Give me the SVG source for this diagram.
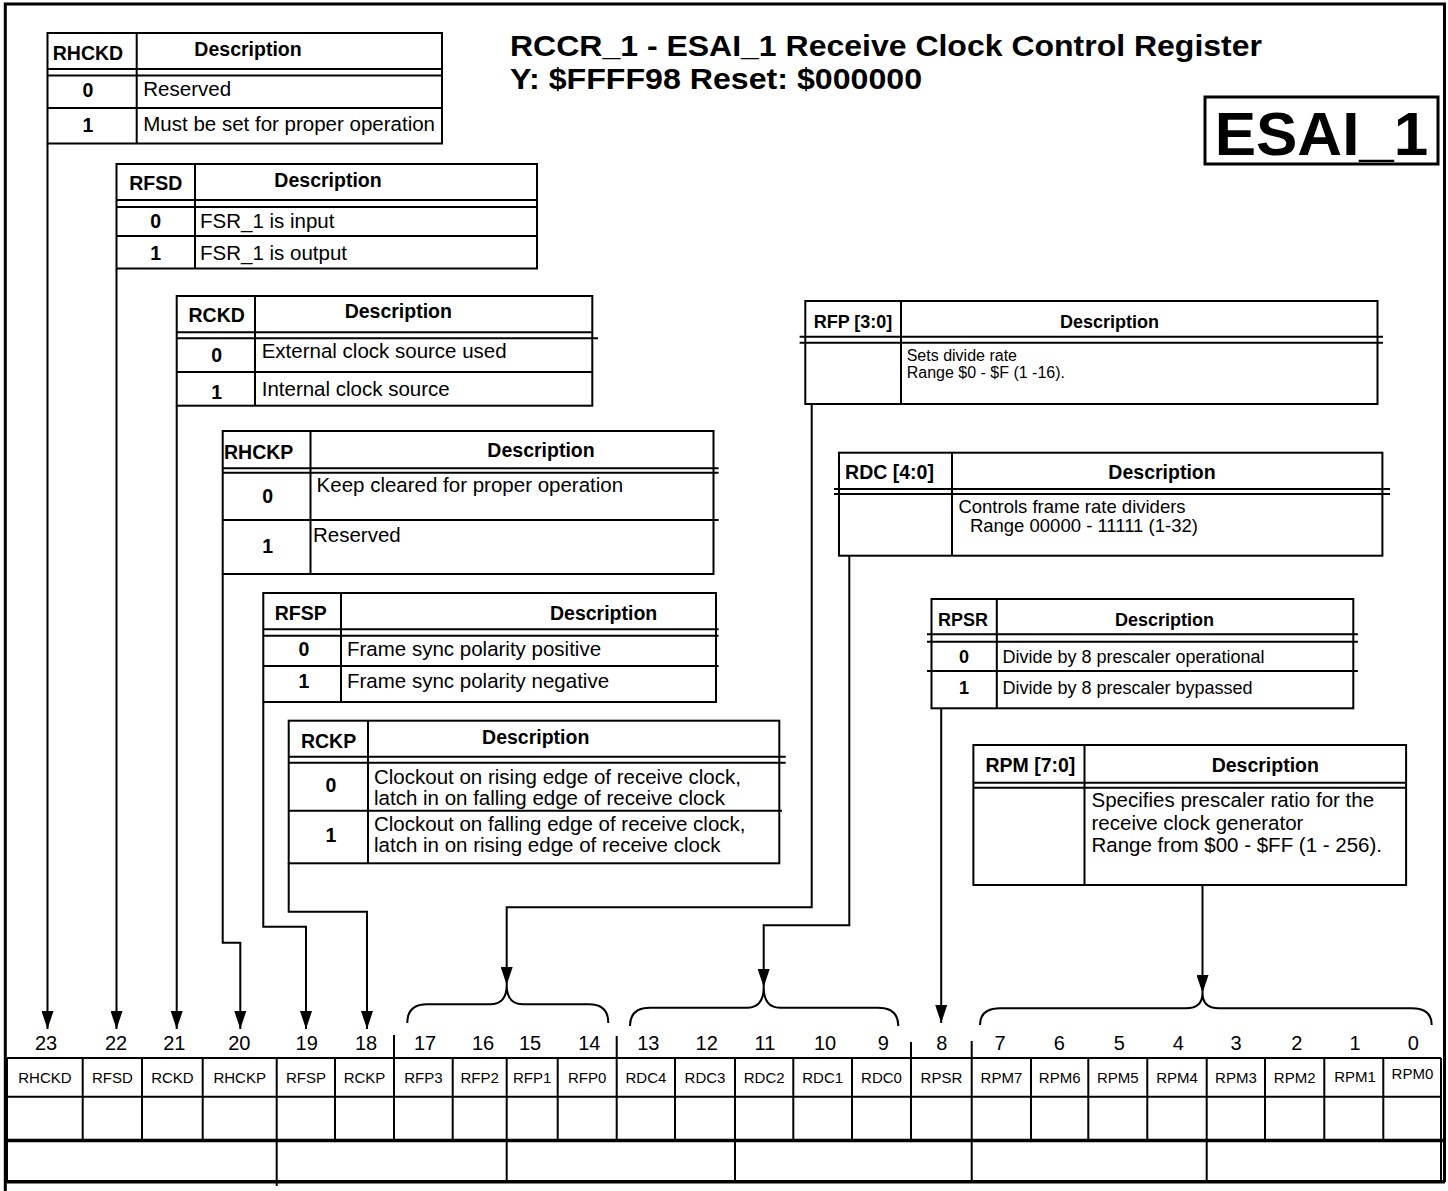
<svg xmlns="http://www.w3.org/2000/svg" width="1448" height="1191" viewBox="0 0 1448 1191">
<defs>
<style>
.ln{fill:none;stroke:#000;stroke-width:2}
.hd{font-family:"Liberation Sans",Arial,Helvetica,sans-serif;font-weight:bold;fill:#000}
.tx{font-family:"Liberation Sans",Arial,Helvetica,sans-serif;fill:#000}
.c{text-anchor:middle}
</style>
<marker id="ah" markerUnits="userSpaceOnUse" markerWidth="18" markerHeight="12" refX="18" refY="6" orient="auto">
<path d="M0,0 L18,6 L0,12 z" fill="#000"/>
</marker>
</defs>
<rect width="1448" height="1191" fill="#fff"/>
<g id="frame" fill="none" stroke="#000" stroke-width="3">
<path d="M5.3 1191V4H1444.5V1182"/>
</g>
<g id="title">
<text class="hd" x="510" y="56" font-size="30" textLength="752" lengthAdjust="spacingAndGlyphs">RCCR_1 - ESAI_1 Receive Clock Control Register</text>
<text class="hd" x="510" y="88.5" font-size="30" textLength="412" lengthAdjust="spacingAndGlyphs">Y: $FFFF98 Reset: $000000</text>
</g>
<g id="esai-box">
<rect x="1205" y="97" width="233" height="67" fill="none" stroke="#000" stroke-width="3"/>
<text class="hd c" x="1321.5" y="155" font-size="62">ESAI_1</text>
</g>
<g id="tbl-rhckd">
<rect class="ln" x="47.5" y="33" width="394.5" height="110.5"/>
<path class="ln" d="M136.7 33V143.5M47.5 69H442M47.5 75.5H442M47.5 108H442"/>
<text class="hd c" x="88" y="59.5" font-size="19.5">RHCKD</text>
<text class="hd c" x="248" y="56.3" font-size="19.5">Description</text>
<text class="hd c" x="88" y="97" font-size="19.5">0</text>
<text class="hd c" x="88" y="132" font-size="19.5">1</text>
<text class="tx" x="143.3" y="96" font-size="20.5">Reserved</text>
<text class="tx" x="143.3" y="131" font-size="20.5">Must be set for proper operation</text>
</g>
<g id="tbl-rfsd">
<rect class="ln" x="116.5" y="164" width="420.5" height="104.5"/>
<path class="ln" d="M195 164V268.5M116.5 200H537M116.5 207H537M116.5 236H537"/>
<text class="hd c" x="155.7" y="190" font-size="19.5">RFSD</text>
<text class="hd c" x="328" y="186.7" font-size="19.5">Description</text>
<text class="hd c" x="155.7" y="228" font-size="19.5">0</text>
<text class="hd c" x="155.7" y="260" font-size="19.5">1</text>
<text class="tx" x="200" y="227.7" font-size="20.5">FSR_1 is input</text>
<text class="tx" x="200" y="259.7" font-size="20.5">FSR_1 is output</text>
</g>
<g id="tbl-rckd">
<rect class="ln" x="176.7" y="296" width="415.6" height="109.7"/>
<path class="ln" d="M255 296V405.7M176.7 332.3H592.3M176.7 338.3H598M176.7 372H592.3"/>
<text class="hd c" x="216.7" y="321.7" font-size="19.5">RCKD</text>
<text class="hd c" x="398.3" y="317.7" font-size="19.5">Description</text>
<text class="hd c" x="216.7" y="362" font-size="19.5">0</text>
<text class="hd c" x="216.7" y="399" font-size="19.5">1</text>
<text class="tx" x="261.7" y="357.7" font-size="20.5">External clock source used</text>
<text class="tx" x="261.7" y="395.7" font-size="20.5">Internal clock source</text>
</g>
<g id="tbl-rhckp">
<rect class="ln" x="222.7" y="431" width="490.8" height="143"/>
<path class="ln" d="M310.5 431V574M222.7 468.3H718.6M222.7 472.7H718.6M222.7 520H718.6"/>
<text class="hd" x="224" y="459.3" font-size="19.5">RHCKP</text>
<text class="hd c" x="541" y="457.3" font-size="19.5">Description</text>
<text class="hd c" x="267.6" y="503.3" font-size="19.5">0</text>
<text class="hd c" x="267.6" y="553.3" font-size="19.5">1</text>
<text class="tx" x="316.6" y="491.7" font-size="20.5">Keep cleared for proper operation</text>
<text class="tx" x="313" y="541.7" font-size="20.5">Reserved</text>
</g>
<g id="tbl-rfsp">
<rect class="ln" x="263.3" y="593" width="452.7" height="109"/>
<path class="ln" d="M341 593V702M263.3 629.3H718.6M263.3 635.7H718.6M263.3 666H718.6"/>
<text class="hd c" x="300.7" y="620" font-size="19.5">RFSP</text>
<text class="hd c" x="603.6" y="620" font-size="19.5">Description</text>
<text class="hd c" x="304" y="656" font-size="19.5">0</text>
<text class="hd c" x="304" y="688" font-size="19.5">1</text>
<text class="tx" x="347" y="656" font-size="20.5">Frame sync polarity positive</text>
<text class="tx" x="347" y="688" font-size="20.5">Frame sync polarity negative</text>
</g>
<g id="tbl-rckp">
<rect class="ln" x="288.7" y="720.7" width="490.6" height="142.6"/>
<path class="ln" d="M368 720.7V863.3M288.7 756.7H785.7M288.7 762.7H785.7M288.7 810.7H782"/>
<text class="hd c" x="328.6" y="747.7" font-size="19.5">RCKP</text>
<text class="hd c" x="535.7" y="744" font-size="19.5">Description</text>
<text class="hd c" x="331" y="792.3" font-size="19.5">0</text>
<text class="hd c" x="331" y="842.3" font-size="19.5">1</text>
<text class="tx" x="374" y="783.5" font-size="20.5">Clockout on rising edge of receive clock,</text>
<text class="tx" x="374" y="804.5" font-size="20.5">latch in on falling edge of receive clock</text>
<text class="tx" x="374" y="831.2" font-size="20.5">Clockout on falling edge of receive clock,</text>
<text class="tx" x="374" y="852.2" font-size="20.5">latch in on rising edge of receive clock</text>
</g>
<g id="tbl-rfp">
<rect class="ln" x="805.3" y="301" width="572.2" height="103"/>
<path class="ln" d="M901 301V404M799.6 336.7H1383M799.6 342.7H1383"/>
<text class="hd c" x="853" y="328.3" font-size="18">RFP [3:0]</text>
<text class="hd c" x="1109.6" y="328.3" font-size="18">Description</text>
<text class="tx" x="906.7" y="361" font-size="16">Sets divide rate</text>
<text class="tx" x="906.7" y="378" font-size="16">Range $0 - $F (1 -16).</text>
</g>
<g id="tbl-rdc">
<rect class="ln" x="839" y="452.7" width="543.4" height="103"/>
<path class="ln" d="M952 452.7V555.7M834 489H1390M834 494H1390"/>
<text class="hd c" x="889.5" y="479.3" font-size="19.5">RDC [4:0]</text>
<text class="hd c" x="1162" y="479.3" font-size="19.5">Description</text>
<text class="tx" x="958.4" y="513" font-size="18.5">Controls frame rate dividers</text>
<text class="tx" x="969.9" y="532" font-size="18.5">Range 00000 - 11111 (1-32)</text>
</g>
<g id="tbl-rpsr">
<rect class="ln" x="931.5" y="599" width="421.8" height="109.3"/>
<path class="ln" d="M996.8 599V708.3M927 634.3H1357.9M927 641.7H1357.9M927 671H1357.9"/>
<text class="hd c" x="963" y="626" font-size="18">RPSR</text>
<text class="hd c" x="1164.6" y="626" font-size="18">Description</text>
<text class="hd c" x="964" y="662.7" font-size="18">0</text>
<text class="hd c" x="964" y="694.3" font-size="18">1</text>
<text class="tx" x="1002.4" y="662.7" font-size="18">Divide by 8 prescaler operational</text>
<text class="tx" x="1002.4" y="694.3" font-size="18">Divide by 8 prescaler bypassed</text>
</g>
<g id="tbl-rpm">
<rect class="ln" x="973.4" y="745" width="432.7" height="140"/>
<path class="ln" d="M1084.5 745V885M973.4 782.7H1406.1M973.4 787.7H1406.1"/>
<text class="hd c" x="1030.4" y="771.7" font-size="19.5">RPM [7:0]</text>
<text class="hd c" x="1265.3" y="771.7" font-size="19.5">Description</text>
<text class="tx" x="1091.5" y="807.3" font-size="20.5">Specifies prescaler ratio for the</text>
<text class="tx" x="1091.5" y="829.5" font-size="20.5">receive clock generator</text>
<text class="tx" x="1091.5" y="851.7" font-size="20.5">Range from $00 - $FF (1 - 256).</text>
</g>
<g id="connectors" class="ln">
<path d="M47.5 143.5V1029" marker-end="url(#ah)"/>
<path d="M116.5 268.5V1029" marker-end="url(#ah)"/>
<path d="M176.7 405.7V1029" marker-end="url(#ah)"/>
<path d="M222.7 574V942.7H240.3V1029" marker-end="url(#ah)"/>
<path d="M263.3 702V926.7H306V1029" marker-end="url(#ah)"/>
<path d="M288.7 863.3V911.7H367V1029" marker-end="url(#ah)"/>
<path d="M811.7 404V907.3H506.7V985" marker-end="url(#ah)"/>
<path d="M849.3 555.7V925.3H763.7V987" marker-end="url(#ah)"/>
<path d="M941.2 708.3V1023" marker-end="url(#ah)"/>
<path d="M1202.5 885V993" marker-end="url(#ah)"/>
<path d="M407.3 1023Q407.3 1004.3 427 1004.3H490Q506.7 1004.3 506.7 985Q506.7 1004.3 523 1004.3H589Q608.3 1004.3 608.3 1023"/>
<path d="M630 1026Q630 1007.7 650 1007.7H747Q763.7 1007.7 763.7 987Q763.7 1007.7 780 1007.7H878Q898.3 1007.7 898.3 1026"/>
<path d="M980 1025Q980 1008.3 1000 1008.3H1186Q1202.5 1008.3 1202.5 993Q1202.5 1008.3 1219 1008.3H1412Q1431.7 1008.3 1431.7 1025"/>
</g>
<g id="register">
<path class="ln" d="M7 1058H1441M7 1096.7H1441M7 1058V1182M1441 1058V1182M394 1035V1058M616.7 1036V1058M911 1042V1058M971.7 1041V1058"/>
<path class="ln" d="M82.7 1058V1140M142 1058V1140M202.7 1058V1140M276.7 1058V1186M335 1058V1140M394 1058V1140M452.7 1058V1140M506.7 1058V1182M557.7 1058V1140M616.7 1058V1140M675 1058V1140M735 1058V1182M793.3 1058V1140M852 1058V1140M911 1058V1140M971.7 1058V1182M1031 1058V1140M1088.3 1058V1140M1147.3 1058V1140M1206.7 1058V1182M1265 1058V1140M1324.3 1058V1140M1383.3 1058V1140"/>
<path fill="none" stroke="#000" stroke-width="3.5" d="M5 1140.5H1444M5 1181.7H1445"/>
<g class="tx c" font-size="20">
<text x="46" y="1050">23</text><text x="116" y="1050">22</text><text x="174.3" y="1050">21</text><text x="239.3" y="1050">20</text><text x="306.7" y="1050">19</text><text x="366" y="1050">18</text><text x="425" y="1050">17</text><text x="483" y="1050">16</text><text x="530" y="1050">15</text><text x="589.3" y="1050">14</text><text x="648.3" y="1050">13</text><text x="706.7" y="1050">12</text><text x="765" y="1050">11</text><text x="825" y="1050">10</text><text x="883.3" y="1050">9</text><text x="941.7" y="1050">8</text><text x="1000" y="1050">7</text><text x="1059.3" y="1050">6</text><text x="1119.3" y="1050">5</text><text x="1178.3" y="1050">4</text><text x="1236" y="1050">3</text><text x="1296.7" y="1050">2</text><text x="1355" y="1050">1</text><text x="1413.3" y="1050">0</text>
</g>
<g class="tx c" font-size="15">
<text x="44.9" y="1083.3">RHCKD</text><text x="112.4" y="1083.3">RFSD</text><text x="172.4" y="1083.3">RCKD</text><text x="239.7" y="1083.3">RHCKP</text><text x="305.9" y="1083.3">RFSP</text><text x="364.5" y="1083.3">RCKP</text><text x="423.4" y="1083.3">RFP3</text><text x="479.7" y="1083.3">RFP2</text><text x="532.2" y="1083.3">RFP1</text><text x="587.2" y="1083.3">RFP0</text><text x="645.9" y="1083.3">RDC4</text><text x="705" y="1083.3">RDC3</text><text x="764.2" y="1083.3">RDC2</text><text x="822.7" y="1083.3">RDC1</text><text x="881.5" y="1083.3">RDC0</text><text x="941.4" y="1083.3">RPSR</text><text x="1001.4" y="1083.3">RPM7</text><text x="1059.7" y="1083.3">RPM6</text><text x="1117.8" y="1083.3">RPM5</text><text x="1177" y="1083.3">RPM4</text><text x="1235.9" y="1083.3">RPM3</text><text x="1294.7" y="1083.3">RPM2</text><text x="1355" y="1081.7">RPM1</text><text x="1412.4" y="1079.3">RPM0</text>
</g>
</g>
</svg>
